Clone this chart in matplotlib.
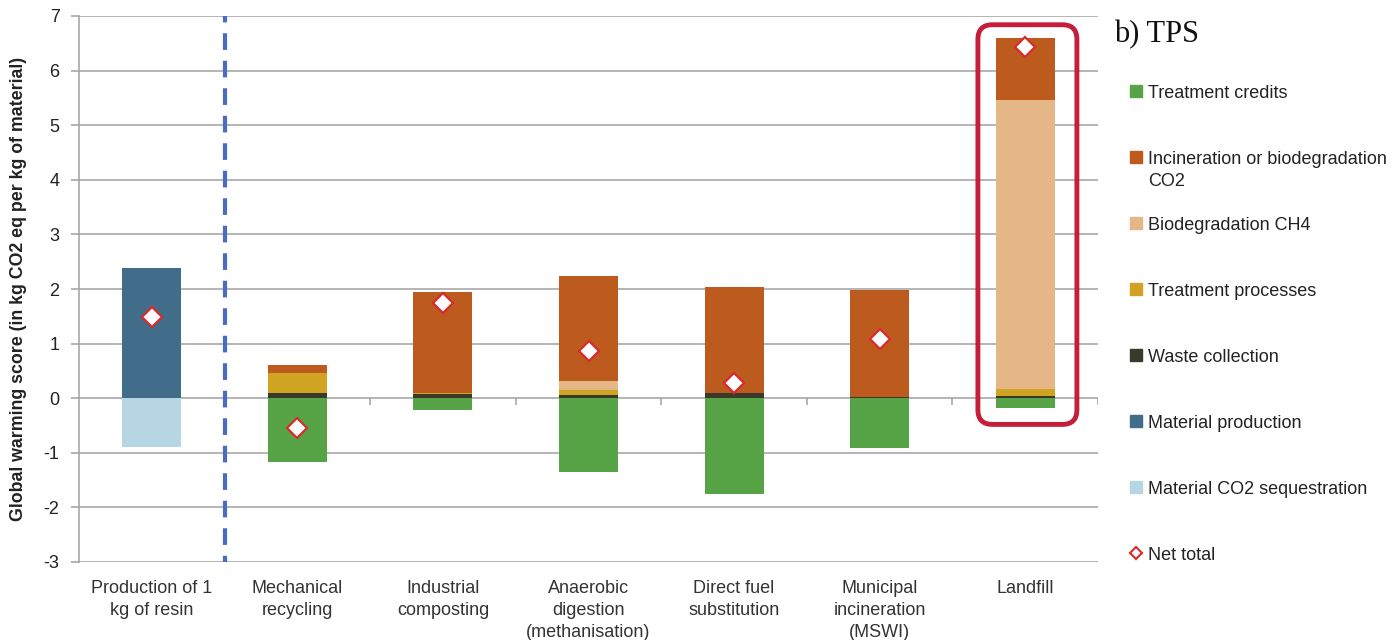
import matplotlib.pyplot as plt
import numpy as np
from matplotlib.patches import FancyBboxPatch

plt.rcParams['font.family'] = ['Liberation Sans', 'DejaVu Sans']
plt.rcParams['axes.unicode_minus'] = False

categories = ['Production of 1\nkg of resin', 'Mechanical\nrecycling', 'Industrial\ncomposting',
              'Anaerobic\ndigestion\n(methanisation)', 'Direct fuel\nsubstitution',
              'Municipal\nincineration\n(MSWI)', 'Landfill']

# positive contributions, stacked upward from zero in this order
waste_collection = [0.00, 0.10, 0.07, 0.05, 0.10, 0.02, 0.04]
treatment_processes = [0.00, 0.36, 0.03, 0.10, 0.00, 0.01, 0.12]
biodeg_ch4 = [0.00, 0.00, 0.00, 0.17, 0.00, 0.00, 5.30]
incin_co2 = [0.00, 0.14, 1.85, 1.91, 1.93, 1.95, 1.14]
material_production = [2.38, 0, 0, 0, 0, 0, 0]
# negative contributions
treatment_credits = [0.00, -1.17, -0.21, -1.36, -1.76, -0.92, -0.18]
co2_sequestration = [-0.90, 0, 0, 0, 0, 0, 0]
net_total = [1.48, -0.55, 1.75, 0.86, 0.28, 1.08, 6.43]

legend_labels = ['Treatment credits', 'Incineration or biodegradation\nCO2', 'Biodegradation CH4',
                 'Treatment processes', 'Waste collection', 'Material production',
                 'Material CO2 sequestration', 'Net total']

c_credits = '#56a445'
c_co2 = '#bd5b1f'
c_ch4 = '#e6b786'
c_treat = '#d0a322'
c_waste = '#3a3a2c'
c_prod = '#416d8b'
c_seq = '#b6d6e3'
c_net = '#d92b2b'

fig = plt.figure(figsize=(13.94, 6.4), dpi=100)
ax = fig.add_axes([79 / 1394, 1 - 562 / 640, (1098 - 79) / 1394, (562 - 16) / 640])

x = np.arange(len(categories))
w = 0.405

bottom = np.zeros(len(x))
for vals, col in [(waste_collection, c_waste), (treatment_processes, c_treat),
                  (biodeg_ch4, c_ch4), (incin_co2, c_co2), (material_production, c_prod)]:
    ax.bar(x, vals, w, bottom=bottom, color=col, zorder=3)
    bottom += np.array(vals)

neg = np.zeros(len(x))
for vals, col in [(treatment_credits, c_credits), (co2_sequestration, c_seq)]:
    ax.bar(x, vals, w, bottom=neg, color=col, zorder=3)
    neg += np.array(vals)

ax.plot(x, net_total, 'D', ms=10, mfc='white', mec=c_net, mew=1.6, zorder=5, linestyle='none')

ax.set_xlim(-0.5, len(x) - 0.5)
ax.set_ylim(-3, 7)
ax.set_yticks(range(-3, 8))
ax.yaxis.grid(True, color='#a0a0a0', lw=1.1)
ax.set_axisbelow(True)
for s in ['top', 'right', 'bottom']:
    ax.spines[s].set_visible(False)
ax.spines['left'].set_color('#a0a0a0')
ax.spines['left'].set_linewidth(1.1)
ax.tick_params(axis='y', length=6, width=1.1, color='#a0a0a0', labelsize=13, labelcolor='#222222', pad=8)
ax.set_xticks(x)
ax.set_xticklabels(categories, fontsize=13, color='#333333', va='top', linespacing=1.38)
ax.tick_params(axis='x', length=0, pad=13)

# small tick marks on the zero line between categories
ax.vlines(np.arange(0.5, len(x)), -0.12, 0, color='#a0a0a0', lw=1.1, zorder=2)

ax.set_ylabel('Global warming score (in kg CO2 eq per kg of material)', fontsize=12.8,
              fontweight='bold', color='#222222')
ax.yaxis.set_label_coords(-0.051, 0.5)

# separator between production and end-of-life options
ax.axvline(0.5, color='#4a6cc0', lw=3, ls=(2.5, (4, 2.6)), zorder=4)

# highlight box around landfill
box = FancyBboxPatch((5.675, -0.48), 0.68, 7.32, boxstyle='round,pad=0,rounding_size=0.1',
                     mutation_aspect=1 / 0.375, fill=False, ec='#c41e3a', lw=3.5, zorder=6, clip_on=False)
ax.add_patch(box)

# legend column (pixel coordinates, y downward)
lax = fig.add_axes([0, 0, 1, 1], facecolor='none')
lax.set_xlim(0, 1394)
lax.set_ylim(640, 0)
lax.axis('off')
lax.text(1114, 35, 'b) TPS', family='Liberation Serif', fontsize=22, va='center', ha='left', color='#111111')
colors = [c_credits, c_co2, c_ch4, c_treat, c_waste, c_prod, c_seq]
for i, lab in enumerate(legend_labels):
    yy = 91 + 66 * i
    if i < len(colors):
        lax.plot(1136, yy, 's', ms=8, color=colors[i])
    else:
        lax.plot(1136, yy, 'D', ms=6, mfc='white', mec=c_net, mew=1.5)
    # baseline of a multi-line label sits on its last line
    lax.text(1148, yy + 6.5 + 22 * lab.count('\n'), lab, fontsize=13, va='baseline', ha='left',
             color='#222222', linespacing=1.38)

fig.savefig('out.png', dpi=100)
